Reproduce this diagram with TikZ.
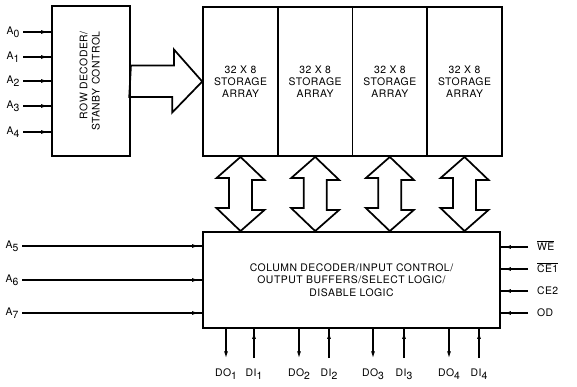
\documentclass[tikz,border=0pt]{standalone}
\usepackage{fontspec}
\setmainfont{TeX Gyre Heros}[LetterSpace=5]
\usepackage{tikz}
\usetikzlibrary{arrows.meta}
\usetikzlibrary{decorations.markings}

\newcommand{\lowidx}[1]{\raisebox{-0.5ex}{#1}}

\tikzset{
  blk/.style={draw, line width=1.4pt, inner sep=0pt, align=center},
  fatarrow/.style={draw, line width=1.3pt, line join=miter},
  sigin/.style={line width=0.8pt, postaction={decorate},
    decoration={markings, mark=at position -2.5pt with {\arrow{Latex[length=5pt,width=3pt]}}}},
  sigout/.style={line width=0.8pt, -{Latex[length=5pt,width=3pt]}},
  pinlbl/.style={inner sep=0.75pt},
  rlbl/.style={pinlbl, anchor=west, outer xsep=6pt, text height=6.5pt, text depth=1pt},
  blbl/.style={pinlbl, anchor=north, outer ysep=7.5pt}
}

\begin{document}
\begin{tikzpicture}[x=0.75pt,y=0.75pt,yscale=-1,xscale=1,
  every node/.style={font=\fontsize{7.8}{9.2}\selectfont}]
\useasboundingbox (0,0) rectangle (577,386);

% row decoder
\node (rowdec) [blk, minimum width=58.5pt, minimum height=112.5pt] at (91,81)
  {\rotatebox{90}{\begin{tabular}{@{}r@{}}ROW DECODER/\\STANBY CONTROL\end{tabular}}};

% storage arrays
\foreach \i in {0,...,3}
  \node (arr\i) [blk, minimum width=56pt, minimum height=111.75pt] at ({240.5+74.67*\i},81.5)
    {32 X 8\\STORAGE\\ARRAY};

% column decoder
\node (coldec) [blk, minimum width=222.75pt, minimum height=72pt] at (351.5,280)
  {COLUMN DECODER/INPUT CONTROL/\\OUTPUT BUFFERS/SELECT LOGIC/\\DISABLE LOGIC};

% row decoder to arrays
\draw [fatarrow] (rowdec.east) ++(0,-15.5) -- ++(43,0) -- ++(0,-16) -- (arr0.west)
  -- ++(-30,31) -- ++(0,-15.5) -- ++(-43,0) -- cycle;

% arrays to column decoder
\foreach \i in {0,...,3}
  \draw [fatarrow] (arr\i.south) -- ++(24,23) -- ++(-12.5,0) -- ++(0,30) -- ++(12.5,0)
    -- (coldec.north -| arr\i.south) -- ++(-24,-23) -- ++(12.5,0) -- ++(0,-30) -- ++(-12.5,0) -- cycle;

% row address inputs
\foreach \i/\y in {0/32,1/57,2/81,3/106,4/132} {
  \node (a\i) [pinlbl, anchor=east, outer xsep=2pt] at (23,\y) {A\lowidx{\i}};
  \draw [sigin] (a\i.east) -- (a\i.east -| rowdec.west);
}

% column address inputs
\foreach \i/\y in {5/246,6/280,7/313} {
  \node (a\i) [pinlbl, anchor=east, outer xsep=2pt] at (22,\y) {A\lowidx{\i}};
  \draw [sigin] (a\i.east) -- (a\i.east -| coldec.west);
}

% control inputs
\node (we) [rlbl] at (528,247) {$\overline{\mbox{WE}}$};
\node (ce1) [rlbl] at (528,269) {$\overline{\mbox{CE1}}$};
\node (ce2) [rlbl] at (528,291) {CE2};
\node (od) [rlbl] at (528,313) {OD};
\foreach \n in {we,ce1,ce2,od}
  \draw [sigin] (\n.west) -- (\n.west -| coldec.east);

% data outputs and inputs
\foreach \k/\xo/\xi in {1/226/254,2/299/329,3/373/404,4/449/479} {
  \node (do\k) [blbl] at (\xo,358) {DO\lowidx{\k}};
  \node (di\k) [blbl] at (\xi,358) {DI\lowidx{\k}};
  \draw [sigout] (coldec.south -| do\k.north) -- (do\k.north);
  \draw [sigin] (di\k.north) -- (coldec.south -| di\k.north);
}

\end{tikzpicture}
\end{document}
